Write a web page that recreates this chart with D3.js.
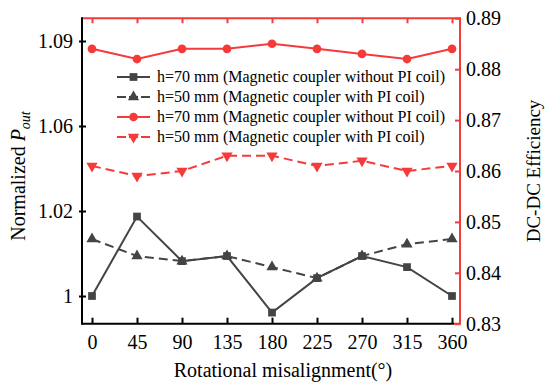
<!DOCTYPE html>
<html>
<head>
<meta charset="utf-8">
<script src="https://cdn.jsdelivr.net/npm/d3@7"></script>
<style>
  body { margin: 0; background: #fff; }
</style>
</head>
<body>
<div id="chart"></div>
<script>
// Data
const angles = [0, 45, 90, 135, 180, 225, 270, 315, 360];
const pout70 = [1.000, 1.0187, 1.0082, 1.0094, 0.9961, 1.0042, 1.0094, 1.0068, 1.000];
const pout50 = [1.0134, 1.0094, 1.0082, 1.0094, 1.0068, 1.0042, 1.0094, 1.0122, 1.0134];
const eff70 = [0.884, 0.882, 0.884, 0.884, 0.885, 0.884, 0.883, 0.882, 0.884];
const eff50 = [0.861, 0.859, 0.860, 0.863, 0.863, 0.861, 0.862, 0.860, 0.861];
const leftTicks = [1, 1.02, 1.06, 1.09];
const rightTicks = [0.83, 0.84, 0.85, 0.86, 0.87, 0.88, 0.89];
const legendLabels = [
  "h=70 mm (Magnetic coupler without PI coil)",
  "h=50 mm (Magnetic coupler with PI coil)",
  "h=70 mm (Magnetic coupler without PI coil)",
  "h=50 mm (Magnetic coupler with PI coil)"
];

const W = 550, H = 389;
const plot = { left: 82, right: 460, top: 18.3, bottom: 323.7 };
const grey = "#444";
const red = "#f63a3a";
const FONT = "Liberation Serif";

const svg = d3.select("#chart").append("svg")
    .attr("width", W)
    .attr("height", H)
    .attr("font-family", FONT);

// Scales
const x = d3.scaleLinear().domain([0, 360]).range([92, 452]);
// left axis in the source has evenly spaced but unevenly valued ticks
const yL = d3.scaleLinear().domain(leftTicks).range([296, 211, 126, 41]);
const yR = d3.scaleLinear().domain([0.83, 0.89]).range([plot.bottom, plot.top]);

// Frame: black left/bottom, red top/right
svg.append("line").attr("x1", plot.left).attr("x2", plot.right)
    .attr("y1", plot.top).attr("y2", plot.top)
    .attr("stroke", red).attr("stroke-width", 2);
svg.append("line").attr("x1", plot.left).attr("x2", plot.right - 6)
    .attr("y1", plot.bottom).attr("y2", plot.bottom)
    .attr("stroke", "#000").attr("stroke-width", 2);
svg.append("line").attr("x1", plot.left).attr("x2", plot.left)
    .attr("y1", plot.top - 1).attr("y2", plot.bottom + 1)
    .attr("stroke", "#000").attr("stroke-width", 2);
svg.append("line").attr("x1", plot.right).attr("x2", plot.right)
    .attr("y1", plot.top - 1).attr("y2", plot.bottom + 1)
    .attr("stroke", red).attr("stroke-width", 2);
svg.append("line").attr("x1", plot.right - 6).attr("x2", plot.right)
    .attr("y1", plot.bottom).attr("y2", plot.bottom)
    .attr("stroke", red).attr("stroke-width", 2);

function styleTicks(g) {
  g.attr("font-family", FONT).attr("font-size", 20);
  g.select(".domain").remove();
  g.selectAll(".tick text").attr("fill", "#000").attr("font-family", FONT);
}

// Bottom axis (ticks inward)
const gx = svg.append("g").attr("transform", `translate(0,${plot.bottom})`)
    .call(d3.axisBottom(x).tickValues(angles).tickSizeInner(-6).tickSizeOuter(0).tickPadding(11));
styleTicks(gx);
gx.selectAll(".tick line").attr("stroke", "#000").attr("stroke-width", 2);

// Top ticks (red, inward)
const gxt = svg.append("g").attr("transform", `translate(0,${plot.top})`)
    .call(d3.axisTop(x).tickValues(angles).tickSizeInner(-5).tickSizeOuter(0).tickFormat(""));
gxt.select(".domain").remove();
gxt.selectAll(".tick line").attr("stroke", red).attr("stroke-width", 2);

// Left axis
const gyl = svg.append("g").attr("transform", `translate(${plot.left},0)`)
    .call(d3.axisLeft(yL).tickValues(leftTicks).tickSizeInner(3).tickSizeOuter(0).tickPadding(6)
      .tickFormat(d => d === 1 ? "1" : d3.format(".2f")(d)));
styleTicks(gyl);
gyl.selectAll(".tick line").attr("x2", 4).attr("x1", -3).attr("stroke", "#000").attr("stroke-width", 2);

// Right axis
const gyr = svg.append("g").attr("transform", `translate(${plot.right},0)`)
    .call(d3.axisRight(yR).tickValues(rightTicks).tickSizeInner(-5).tickSizeOuter(0).tickPadding(6)
      .tickFormat(d3.format(".2f")));
styleTicks(gyr);
gyr.selectAll(".tick line").attr("stroke", red).attr("stroke-width", 2);

// Axis titles
svg.append("text")
    .attr("x", 283).attr("y", 377)
    .attr("text-anchor", "middle")
    .attr("font-family", FONT)
    .attr("font-size", 20)
    .text("Rotational misalignment(°)");

const tl = svg.append("text")
    .attr("transform", `translate(25,${(plot.top + plot.bottom) / 2 + 5}) rotate(-90)`)
    .attr("text-anchor", "middle")
    .attr("font-family", FONT)
    .attr("font-size", 20);
tl.append("tspan").text("Normalized  ");
tl.append("tspan").attr("font-style", "italic").text("P");
tl.append("tspan").attr("font-style", "italic").attr("font-size", 14).attr("dy", 5).text("out");

svg.append("text")
    .attr("transform", `translate(540,${(plot.top + plot.bottom) / 2}) rotate(-90)`)
    .attr("text-anchor", "middle")
    .attr("font-family", FONT)
    .attr("font-size", 19)
    .text("DC-DC Efficiency");

// Series
const series = [
  { vals: pout70, y: yL, color: grey, dash: null, marker: "square" },
  { vals: pout50, y: yL, color: grey, dash: "9,5", marker: "triUp" },
  { vals: eff70, y: yR, color: red, dash: null, marker: "circle" },
  { vals: eff50, y: yR, color: red, dash: "9,5", marker: "triDown" }
];

const symbols = {
  square: d3.symbol().type(d3.symbolSquare).size(60),
  triUp: d3.symbol().type(d3.symbolTriangle).size(55),
  circle: d3.symbol().type(d3.symbolCircle).size(60),
  triDown: d3.symbol().type(d3.symbolTriangle).size(55)
};

function drawMarker(g, s, cx, cy) {
  g.append("path")
    .attr("d", symbols[s.marker]())
    .attr("transform", `translate(${cx},${cy})` + (s.marker === "triDown" ? " rotate(180)" : ""))
    .attr("fill", s.color);
}

series.forEach(s => {
  const line = d3.line().x((d, i) => x(angles[i])).y(d => s.y(d));
  svg.append("path")
    .datum(s.vals)
    .attr("d", line)
    .attr("fill", "none")
    .attr("stroke", s.color)
    .attr("stroke-width", 2)
    .attr("stroke-dasharray", s.dash);
  const g = svg.append("g");
  s.vals.forEach((v, i) => drawMarker(g, s, x(angles[i]), s.y(v)));
});

// Legend
const legendY = [77, 97, 117, 137];
series.forEach((s, i) => {
  const g = svg.append("g");
  g.append("line")
    .attr("x1", 117).attr("x2", 150)
    .attr("y1", legendY[i]).attr("y2", legendY[i])
    .attr("stroke", s.color).attr("stroke-width", 2)
    .attr("stroke-dasharray", s.dash ? "9,3" : null);
  drawMarker(g, s, 133.5, legendY[i]);
  g.append("text")
    .attr("x", 157).attr("y", legendY[i] + 5)
    .attr("font-family", FONT)
    .attr("font-size", 16)
    .text(legendLabels[i]);
});
</script>
</body>
</html>
